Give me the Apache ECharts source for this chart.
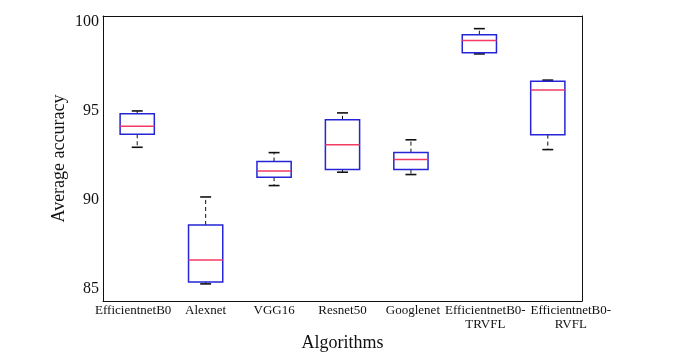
<!DOCTYPE html>
<html>
<head>
<meta charset="utf-8">
<script src="https://cdn.jsdelivr.net/npm/echarts@6/dist/echarts.min.js"></script>
<style>
  html, body { margin: 0; padding: 0; background: #fff; }
  #chart { width: 680px; height: 361px; }
</style>
</head>
<body>
<div id="chart"></div>
<script>
const categories = [
  'EfficientnetB0',
  'Alexnet',
  'VGG16',
  'Resnet50',
  'Googlenet',
  'EfficientnetB0-\nTRVFL',
  'EfficientnetB0-\nRVFL'
];
const lowerWhisker = [92.93, 85.26, 90.78, 91.53, 91.4, 98.17, 92.8];
const q1 = [93.66, 85.36, 91.25, 91.68, 91.68, 98.24, 93.64];
const median = [94.11, 86.6, 91.6, 93.07, 92.24, 98.93, 96.14];
const q3 = [94.81, 88.57, 92.13, 94.47, 92.63, 99.25, 96.63];
const upperWhisker = [94.97, 90.14, 92.63, 94.86, 93.35, 99.59, 96.7];
const yTicks = [85, 90, 95, 100];

// the long labels sit a little to the right of their ticks in the original
const labelPadding = [
  [0, 8, 0, 0], 0, 0, 0, [0, 0, 0, 4], [0, 0, 0, 12], [0, 0, 0, 46]
];

const boxData = categories.map((c, i) => [
  i, lowerWhisker[i], q1[i], median[i], q3[i], upperWhisker[i]
]);

const font = 'Liberation Serif';
const frame = { show: true, onZero: false, lineStyle: { color: '#111', width: 1 } };
const tick = { inside: true, length: 4, lineStyle: { color: '#111' } };

const renderBox = (params, api) => {
  const i = api.value(0);
  const band = api.size([1, 0])[0];
  const half = band * 0.25;
  const cap = band * 0.08;
  const [cx, yLow] = api.coord([i, api.value(1)]);
  const yQ1 = api.coord([i, api.value(2)])[1];
  const yMed = api.coord([i, api.value(3)])[1];
  const yQ3 = api.coord([i, api.value(4)])[1];
  const yUp = api.coord([i, api.value(5)])[1];
  const whisker = { stroke: '#111', lineWidth: 1, lineDash: [4, 3] };
  const capStyle = { stroke: '#111', lineWidth: 1.6 };
  return {
    type: 'group',
    children: [
      { type: 'line', shape: { x1: cx, y1: yQ3, x2: cx, y2: yUp }, style: whisker },
      { type: 'line', shape: { x1: cx, y1: yQ1, x2: cx, y2: yLow }, style: whisker },
      { type: 'line', shape: { x1: cx - cap, y1: yUp, x2: cx + cap, y2: yUp }, style: capStyle },
      { type: 'line', shape: { x1: cx - cap, y1: yLow, x2: cx + cap, y2: yLow }, style: capStyle },
      { type: 'rect',
        shape: { x: cx - half, y: yQ3, width: half * 2, height: yQ1 - yQ3 },
        style: { fill: 'none', stroke: '#2424d8', lineWidth: 1.5 } },
      { type: 'line', shape: { x1: cx - half, y1: yMed, x2: cx + half, y2: yMed },
        style: { stroke: '#f23a62', lineWidth: 1.5 } }
    ]
  };
};

const chart = echarts.init(document.getElementById('chart'));
chart.setOption({
  animation: false,
  backgroundColor: '#fff',
  grid: { left: 103, right: 98, top: 16, bottom: 60 },
  xAxis: [
    {
      type: 'category',
      data: categories.map((c, i) => ({
        value: c,
        textStyle: { padding: labelPadding[i] }
      })),
      boundaryGap: true,
      axisLine: frame,
      axisTick: { ...tick, alignWithLabel: true },
      axisLabel: {
        interval: 0, margin: 3, fontFamily: font, fontSize: 13,
        color: '#111', lineHeight: 14
      },
      name: 'Algorithms',
      nameLocation: 'middle',
      nameGap: 33,
      nameMoveOverlap: false,
      nameTextStyle: { fontFamily: font, fontSize: 18, color: '#111' },
      splitLine: { show: false }
    },
    {
      type: 'category',
      data: categories,
      position: 'top',
      boundaryGap: true,
      axisLine: frame,
      axisTick: { ...tick, alignWithLabel: true },
      axisLabel: { show: false },
      splitLine: { show: false }
    }
  ],
  yAxis: [
    {
      type: 'value',
      min: 84.3,
      max: 100.3,
      axisLine: frame,
      axisTick: { ...tick, customValues: yTicks },
      axisLabel: {
        customValues: yTicks, margin: 4, fontFamily: font, fontSize: 16, color: '#111'
      },
      splitLine: { show: false },
      name: 'Average accuracy',
      nameLocation: 'middle',
      nameGap: 35,
      nameMoveOverlap: false,
      nameTextStyle: { fontFamily: font, fontSize: 18, color: '#111' }
    },
    {
      type: 'value',
      position: 'right',
      min: 84.3,
      max: 100.3,
      axisLine: frame,
      axisTick: { ...tick, customValues: yTicks },
      axisLabel: { show: false },
      splitLine: { show: false }
    }
  ],
  series: [
    {
      type: 'custom',
      renderItem: renderBox,
      data: boxData,
      encode: { x: 0, y: [1, 2, 3, 4, 5] },
      silent: true
    }
  ]
});
</script>
</body>
</html>
